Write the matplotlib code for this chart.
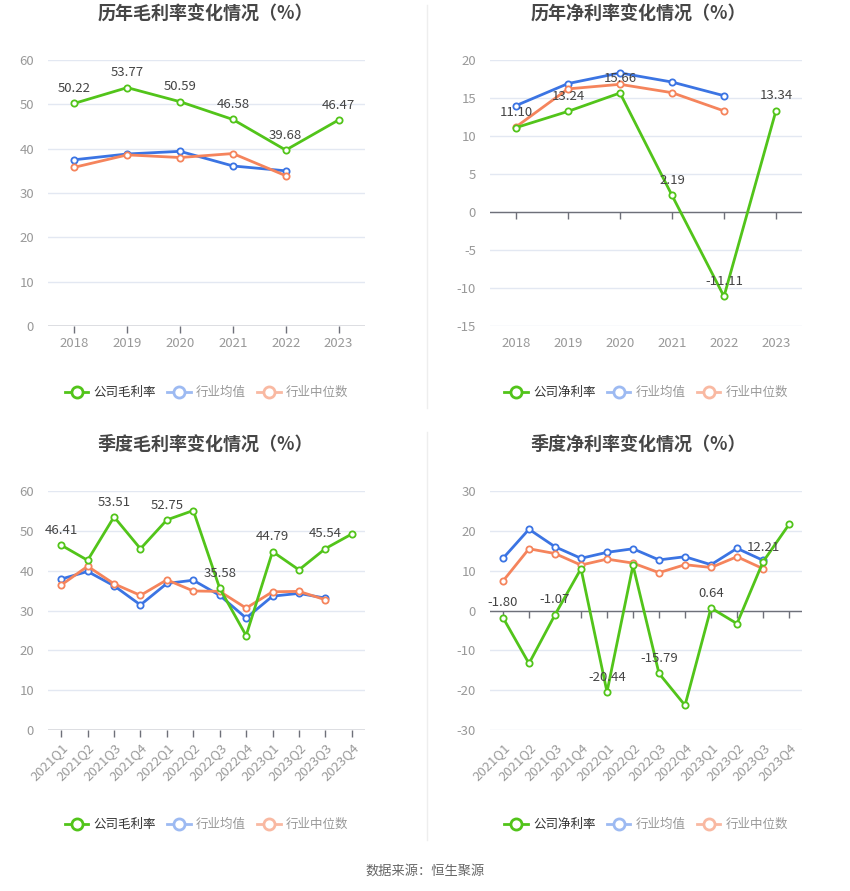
"""
Gross / net margin charts (annual and quarterly) vs industry average and median.
"""
import matplotlib
matplotlib.use('Agg')
import matplotlib.pyplot as plt
from matplotlib.lines import Line2D
import numpy as np

plt.rcParams['font.family'] = ['Noto Sans CJK SC', 'DejaVu Sans']
plt.rcParams['axes.unicode_minus'] = False

###############################################################################
# Data
###############################################################################

years = ['2018', '2019', '2020', '2021', '2022', '2023']
quarters = ['2021Q1', '2021Q2', '2021Q3', '2021Q4', '2022Q1', '2022Q2',
            '2022Q3', '2022Q4', '2023Q1', '2023Q2', '2023Q3', '2023Q4']

# annual gross margin
year_gross_company = [50.22, 53.77, 50.59, 46.58, 39.68, 46.47]
year_gross_avg = [37.5, 38.8, 39.4, 36.1, 35.0]
year_gross_median = [35.8, 38.6, 38.0, 38.9, 33.9]

# annual net margin
year_net_company = [11.10, 13.24, 15.66, 2.19, -11.11, 13.34]
year_net_avg = [14.0, 16.9, 18.3, 17.1, 15.3]
year_net_median = [11.2, 16.2, 16.8, 15.7, 13.3]

# quarterly gross margin
q_gross_company = [46.41, 42.6, 53.51, 45.5, 52.75, 55.1,
                   35.58, 23.7, 44.79, 40.2, 45.54, 49.2]
q_gross_avg = [37.9, 39.8, 36.2, 31.4, 36.8, 37.6, 33.8, 28.1, 33.6, 34.3, 33.1]
q_gross_median = [36.4, 41.1, 36.7, 33.8, 37.7, 34.9, 34.8, 30.6, 34.7, 34.8, 32.7]

# quarterly net margin
q_net_company = [-1.80, -13.3, -1.07, 10.5, -20.44, 11.3,
                 -15.79, -23.8, 0.64, -3.3, 12.21, 21.6]
q_net_avg = [13.1, 20.4, 16.0, 13.1, 14.6, 15.5, 12.7, 13.5, 11.5, 15.6, 12.6]
q_net_median = [7.4, 15.5, 14.3, 11.4, 12.9, 11.9, 9.5, 11.5, 10.8, 13.5, 10.5]

GREEN = '#52c41a'
BLUE = '#3b74e3'
ORANGE = '#f5845c'
GRID = '#e3e8f2'
AXIS = '#6e7079'
TICK_TXT = '#999999'


def draw_panel(ax, cats, company, avg, median, label_idx, ylim, ystep,
               rotate=False, names=('公司毛利率', '行业均值', '行业中位数'),
               legend_y=-0.24):
    """Draws one margin panel in the echarts-like style."""
    x = np.arange(len(cats))
    for vals, color, z in [(avg, BLUE, 3), (median, ORANGE, 4), (company, GREEN, 5)]:
        xs = x[:len(vals)]
        ax.plot(xs, vals, '-o', color=color, lw=2, ms=4.5, mfc='white',
                mec=color, mew=1.3, zorder=z, clip_on=False)

    # data labels
    for i in label_idx:
        ax.annotate(f'{company[i]:.2f}', (x[i], company[i]), xytext=(0, 6),
                    textcoords='offset points', ha='center', va='bottom',
                    fontsize=9.5, color='#444444', zorder=6)

    ax.set_xlim(-0.5, len(cats) - 0.5)
    ax.set_ylim(*ylim)
    ax.set_yticks(np.arange(ylim[0], ylim[1] + 0.1, ystep))
    ax.yaxis.grid(True, color=GRID, lw=1)
    ax.set_axisbelow(True)
    for s in ['top', 'right', 'left', 'bottom']:
        ax.spines[s].set_visible(False)
    ax.tick_params(axis='y', length=0, labelcolor=TICK_TXT, labelsize=9.5, pad=10)

    # zero axis line with small tick marks under it
    ax.axhline(0, color=AXIS, lw=1, zorder=2)
    ax.plot(x, np.zeros(len(x)), linestyle='none', marker=3, ms=5,
            color=AXIS, mew=1, zorder=2, clip_on=False)

    ax.set_xticks(x)
    if rotate:
        ax.set_xticklabels(cats, rotation=45, ha='right', rotation_mode='anchor')
    else:
        ax.set_xticklabels(cats)
    ax.tick_params(axis='x', length=0, labelcolor=TICK_TXT, labelsize=9.5, pad=8)

    handles = [
        Line2D([], [], color=GREEN, lw=2, marker='o', ms=8, mfc='white', mew=2),
        Line2D([], [], color='#9dbaf2', lw=2, marker='o', ms=8, mfc='white', mew=2),
        Line2D([], [], color='#f9b9a2', lw=2, marker='o', ms=8, mfc='white', mew=2),
    ]
    leg = ax.legend(handles, names, loc='center', bbox_to_anchor=(0.5, legend_y),
                    ncol=3, frameon=False, fontsize=9, handlelength=1.9,
                    columnspacing=0.9, handletextpad=0.4)
    colors = ['#333333', '#999999', '#999999']
    for t, c in zip(leg.get_texts(), colors):
        t.set_color(c)


fig = plt.figure(figsize=(8.5, 8.91), dpi=100)

ax1 = fig.add_axes([48 / 850, 1 - 326 / 891, 317 / 850, 266 / 891])
ax2 = fig.add_axes([490 / 850, 1 - 326 / 891, 312 / 850, 266 / 891])
ax3 = fig.add_axes([48 / 850, 1 - 730 / 891, 317 / 850, 239 / 891])
ax4 = fig.add_axes([490 / 850, 1 - 730 / 891, 312 / 850, 239 / 891])

draw_panel(ax1, years, year_gross_company, year_gross_avg, year_gross_median,
           range(6), (0, 60), 10, legend_y=-0.25)
draw_panel(ax2, years, year_net_company, year_net_avg, year_net_median,
           range(6), (-15, 20), 5, names=('公司净利率', '行业均值', '行业中位数'),
           legend_y=-0.25)
draw_panel(ax3, quarters, q_gross_company, q_gross_avg, q_gross_median,
           range(0, 12, 2), (0, 60), 10, rotate=True, legend_y=-0.395)
draw_panel(ax4, quarters, q_net_company, q_net_avg, q_net_median,
           range(0, 12, 2), (-30, 30), 10, rotate=True,
           names=('公司净利率', '行业均值', '行业中位数'), legend_y=-0.395)

# titles
title_kw = dict(ha='center', va='center', fontsize=13, fontweight='bold', color='#464646')
fig.text(205 / 850, 1 - 14 / 891, '历年毛利率变化情况（%）', **title_kw)
fig.text(638 / 850, 1 - 14 / 891, '历年净利率变化情况（%）', **title_kw)
fig.text(205 / 850, 1 - 444 / 891, '季度毛利率变化情况（%）', **title_kw)
fig.text(638 / 850, 1 - 444 / 891, '季度净利率变化情况（%）', **title_kw)

# faint divider between the columns
fig.add_artist(Line2D([427 / 850, 427 / 850], [1 - 5 / 891, 1 - 408 / 891],
                      color='#eeeeee', lw=1))
fig.add_artist(Line2D([427 / 850, 427 / 850], [1 - 432 / 891, 1 - 840 / 891],
                      color='#eeeeee', lw=1))

fig.text(425 / 850, 1 - 871 / 891, '数据来源：恒生聚源', ha='center', va='center',
         fontsize=9.5, color='#666666')

fig.savefig('out.png', dpi=100)
